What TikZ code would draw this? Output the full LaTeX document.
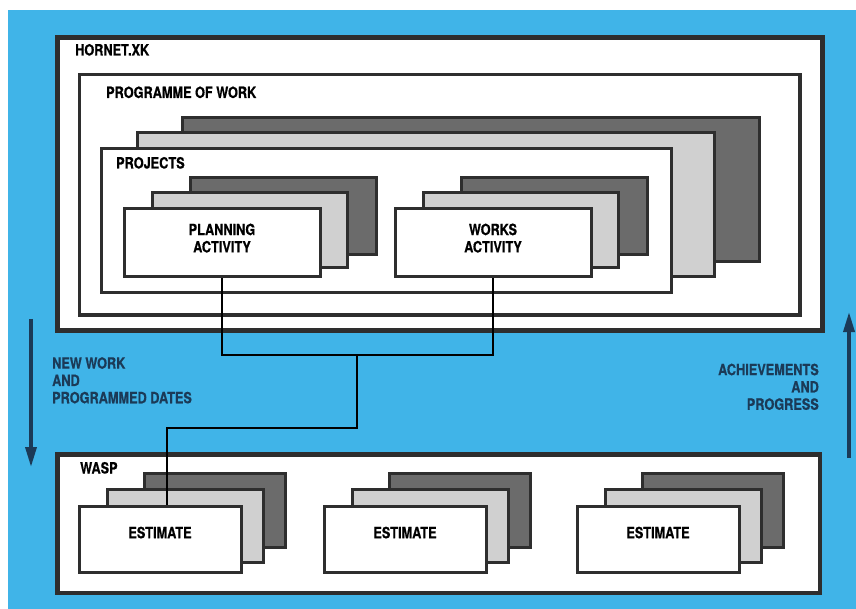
\documentclass[tikz,border=0pt]{standalone}
\usepackage{fontspec}
\setmainfont{TeX Gyre Heros}[FakeStretch=0.82, BoldFeatures={FakeBold=0.6}]
\usetikzlibrary{arrows.meta}
\definecolor{skyback}{HTML}{40B4E8}
\definecolor{navy}{HTML}{1B3A57}
\definecolor{edgegrey}{HTML}{2E2E2E}
\definecolor{darkfill}{HTML}{6B6B6B}
\definecolor{lightfill}{HTML}{D0D0D0}
\tikzset{
  every node/.style={font=\fontsize{15.5}{17.3}\selectfont\bfseries},
  panel/.style={draw=edgegrey, fill=white, line width=4.5pt, rectangle, anchor=north west, inner sep=0pt},
  sheet/.style={draw=edgegrey, line width=3pt},
  backsheet/.style={sheet, fill=darkfill},
  midsheet/.style={sheet, fill=lightfill},
  frontsheet/.style={sheet, fill=white, rectangle, anchor=north west, inner sep=0pt, align=center},
  heading/.style={anchor=base west, inner sep=0pt},
  note/.style={inner sep=0pt, text=navy},
  link/.style={line width=2.5pt, black},
  flow/.style={line width=3.5pt, navy, -{Triangle[length=20pt, width=11pt]}}
}

\begin{document}
\begin{tikzpicture}[x=1pt, y=-1pt]
  \useasboundingbox (0,0) rectangle (856,609);
  \fill[skyback] (8,10) rectangle (856,609);

  % outer system
  \node[panel, minimum width=765, minimum height=293] (hornet) at (55.25,35.25) {};
  \node[heading] (hornettitle) at (75,55.5) {HORNET.XK};

  \node[panel, line width=3.5pt, minimum width=720.5, minimum height=240.5] (prog) at (77.75,72.75) {};
  \node[heading] (progtitle) at (106,98) {PROGRAMME OF WORK};

  % stack of projects
  \draw[backsheet] (182.5,117.5) rectangle (759.5,261.5);
  \draw[midsheet] (137.5,132.5) rectangle (714.5,276.5);
  \node[frontsheet, minimum width=570, minimum height=144] (proj) at (99.5,147.5) {};
  \node[heading] (projtitle) at (116,168.5) {PROJECTS};

  % activities
  \begin{scope}[shift={(0,0)}]
    \draw[backsheet] (190.5,177.5) rectangle (376.5,254.5);
    \draw[midsheet] (152.5,192.5) rectangle (347.5,267.5);
    \node[frontsheet, minimum width=196, minimum height=68, text depth=10pt] (pa) at (122.5,207.5) {PLANNING\\ACTIVITY};
  \end{scope}
  \begin{scope}[shift={(271,0)}]
    \draw[backsheet] (190.5,177.5) rectangle (376.5,254.5);
    \draw[midsheet] (152.5,192.5) rectangle (347.5,267.5);
    \node[frontsheet, minimum width=196, minimum height=68, text depth=10pt] (wa) at (122.5,207.5) {WORKS\\ACTIVITY};
  \end{scope}

  % lower system
  \node[panel, minimum width=762.5, minimum height=138.5] (wasp) at (55.25,452.25) {};
  \node[heading] (wasptitle) at (80,473.5) {WASP};

  \foreach \xo/\nm in {0/est1, 245/est2, 498/est3}{
    \begin{scope}[shift={(\xo,0)}]
      \draw[backsheet] (144.5,473.5) rectangle (285.5,547.5);
      \draw[midsheet] (107.5,489.5) rectangle (263.5,562.5);
      \node[frontsheet, minimum width=162, minimum height=66, text depth=13pt] (\nm) at (77.5,504.5) {ESTIMATE};
    \end{scope}
  }

  % links
  \coordinate (junc) at (357,355);
  \coordinate (bend) at (167,428);
  \draw[link] (pa.south) |- (junc) -| (wa.south);
  \draw[link] (junc) |- (bend) -- (bend |- est1.north);

  % flows
  \coordinate (downtail) at (31,319);
  \coordinate (downtip) at (31,467);
  \draw[flow] (downtail) -- (downtip);
  \coordinate (uptail) at (849,458);
  \coordinate (uptip) at (849,312);
  \draw[flow] (uptail) -- (uptip);

  \node[note, anchor=north west, align=left] (newwork) at (52,357) {NEW WORK\\AND\\PROGRAMMED DATES};
  \node[note, anchor=north east, align=right] (achieved) at (819,363.5) {ACHIEVEMENTS\\AND\\PROGRESS};
\end{tikzpicture}
\end{document}
